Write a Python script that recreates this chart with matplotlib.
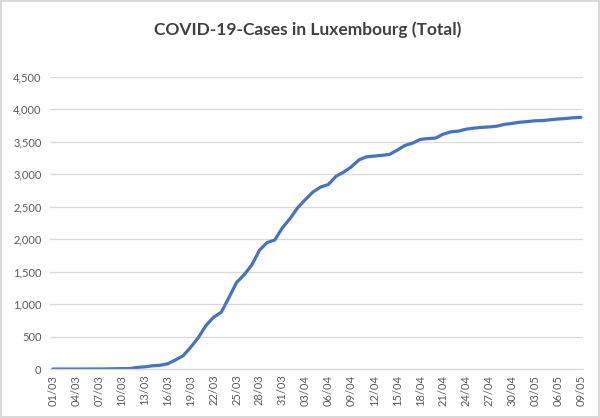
import matplotlib.pyplot as plt
import numpy as np

# daily totals 01/03 .. 09/05
march = [1, 1, 1, 1, 1, 2, 2, 3, 5, 7, 7, 26, 34, 51, 59, 81, 140, 203, 335, 484,
         670, 798, 875, 1099, 1333, 1453, 1605, 1831, 1950, 1988, 2178]
april = [2319, 2487, 2612, 2729, 2804, 2843, 2970, 3034, 3115, 3223, 3270, 3281,
         3292, 3307, 3373, 3444, 3480, 3537, 3550, 3558, 3618, 3654, 3665, 3695,
         3711, 3723, 3729, 3741, 3769, 3784]
may = [3802, 3812, 3824, 3828, 3840, 3851, 3859, 3871, 3877]

cases = march + april + may
dates = ['%02d/03' % d for d in range(1, 32)] + \
        ['%02d/04' % d for d in range(1, 31)] + \
        ['%02d/05' % d for d in range(1, 10)]
yticks = [0, 500, 1000, 1500, 2000, 2500, 3000, 3500, 4000, 4500]

plt.rcParams['font.family'] = ['Lato', 'DejaVu Sans']

fig = plt.figure(figsize=(6, 4.18), dpi=100)
fig.patch.set_edgecolor('#d9d9d9')
fig.patch.set_linewidth(1.5)
ax = fig.add_axes([0.083, 0.117, 0.889, 0.699])

x = np.arange(len(cases))
ax.plot(x, cases, color='#4472C4', linewidth=2.3, solid_capstyle='round')

ax.set_xlim(-0.4, len(cases) - 1 + 0.3)
ax.set_ylim(0, 4500)
ax.set_yticks(yticks)
ax.set_yticklabels(['{:,}'.format(v) for v in yticks])
ax.set_xticks(x[::3])
ax.set_xticklabels(dates[::3], rotation=90)

ax.grid(axis='y', color='#d9d9d9', linewidth=0.9)
ax.set_axisbelow(True)
for s in ['top', 'right', 'left']:
    ax.spines[s].set_visible(False)
ax.spines['bottom'].set_color('#d9d9d9')
ax.spines['bottom'].set_linewidth(0.9)
ax.tick_params(axis='both', length=0, labelsize=8, colors='#595959', pad=6)
ax.tick_params(axis='x', pad=4)

fig.text(0.512, 0.928, 'COVID-19-Cases in Luxembourg (Total)', ha='center', va='center',
         fontsize=12.5, fontweight='bold', color='#404040')

fig.savefig('out.png', dpi=100)
